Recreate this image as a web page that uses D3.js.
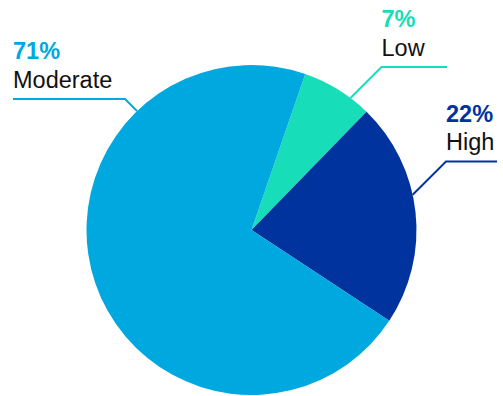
<!DOCTYPE html>
<html>
<head>
<meta charset="utf-8">
<script src="https://cdn.jsdelivr.net/npm/d3@7"></script>
<style>
  html, body { margin: 0; padding: 0; background: #fff; }
  svg { display: block; }
  text { font-family: "Liberation Sans", Arial, Helvetica, sans-serif; }
</style>
</head>
<body>
<svg id="chart" width="503" height="396"></svg>
<script>
// Risk level shares (percent)
const categories = ["Low", "High", "Moderate"];
const shares = [7, 22, 71];
const shareLabels = ["7%", "22%", "71%"];
const colors = ["#17DDB8", "#00339E", "#00A8E0"];

const W = 503, H = 396;
const cx = 251.5, cy = 230, R = 165;
const startDeg = 19;

// Callout layout: elbow point of each leader and where its horizontal run ends
const callouts = {
  Low:      { elbow: [381.5, 67], end: [447, 67], dir: [-1, 1] },
  High:     { elbow: [446, 161.5], end: [497, 161.5], dir: [-1, 1] },
  Moderate: { elbow: [125, 99], end: [13, 99], dir: [1, 1] }
};

const svg = d3.select("#chart");
const g = svg.append("g").attr("transform", `translate(${cx},${cy})`);

const pie = d3.pie()
  .sort(null)
  .value(d => d.value)
  .startAngle(startDeg * Math.PI / 180)
  .endAngle(startDeg * Math.PI / 180 + 2 * Math.PI);

const arc = d3.arc().innerRadius(0).outerRadius(R);

const data = categories.map((c, i) => ({ name: c, value: shares[i], label: shareLabels[i], color: colors[i] }));
const arcs = pie(data);

g.selectAll("path.slice")
  .data(arcs)
  .join("path")
  .attr("class", "slice")
  .attr("d", arc)
  .attr("fill", d => d.data.color);

// Point where a 45° leader from the elbow meets the pie's rim
function rimPoint(elbow, dir) {
  const px = elbow[0] - cx, py = elbow[1] - cy;
  const n = Math.hypot(dir[0], dir[1]);
  const ux = dir[0] / n, uy = dir[1] / n;
  const b = px * ux + py * uy;
  const c = px * px + py * py - R * R;
  const t = -b - Math.sqrt(b * b - c);
  return [elbow[0] + ux * t, elbow[1] + uy * t];
}

data.forEach(d => {
  const co = callouts[d.name];
  const rim = rimPoint(co.elbow, co.dir);
  svg.append("polyline")
    .attr("points", [rim, co.elbow, co.end].map(p => p.join(",")).join(" "))
    .attr("fill", "none")
    .attr("stroke", d.color)
    .attr("stroke-width", 2);

  const tx = Math.min(co.elbow[0], co.end[0]);
  const ly = co.elbow[1];
  svg.append("text")
    .attr("x", tx)
    .attr("y", ly - 40)
    .attr("font-size", 23.5)
    .attr("font-weight", "bold")
    .attr("fill", d.color)
    .text(d.label);
  svg.append("text")
    .attr("x", tx)
    .attr("y", ly - 11.5)
    .attr("font-size", 23.5)
    .attr("fill", "#111")
    .text(d.name);
});
</script>
</body>
</html>
